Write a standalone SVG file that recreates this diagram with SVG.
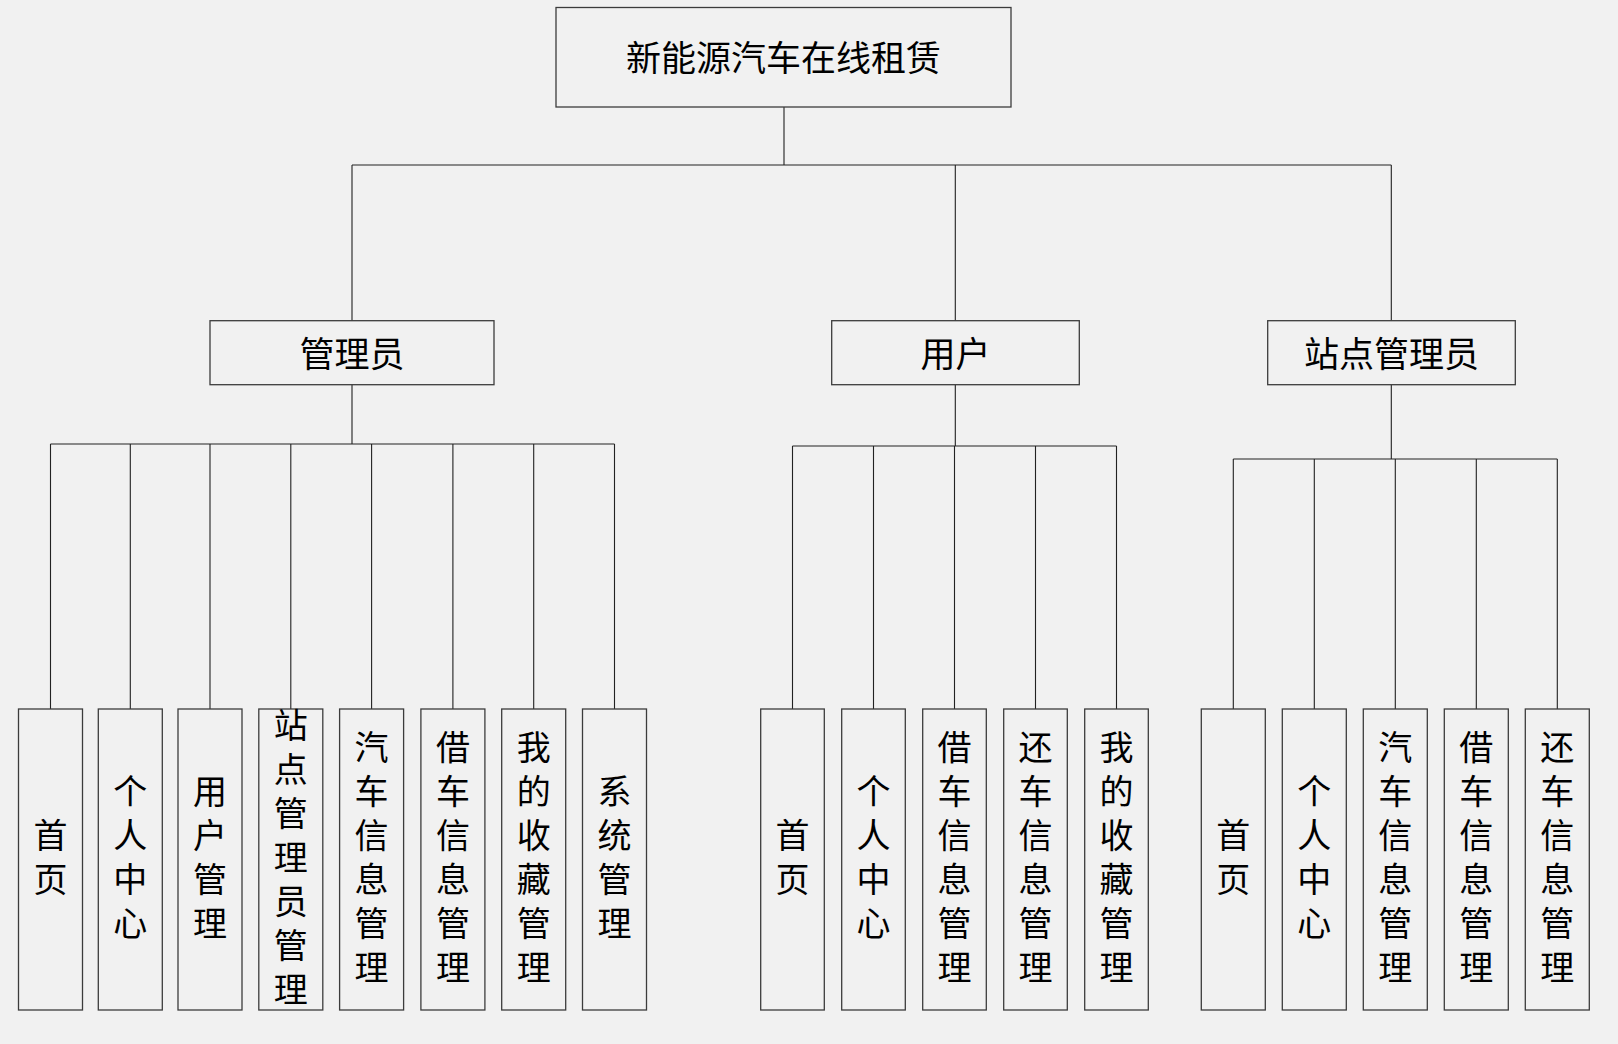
<svg xmlns="http://www.w3.org/2000/svg" width="1618" height="1044" viewBox="0 0 1618 1044">
<style>
.bg{fill:#f1f1f1}
.box{fill:#f1f1f1;stroke:#3c3c3c;stroke-width:1.3}
.ln{fill:none;stroke:#222;stroke-width:1.1}
.t{font-family:"Noto Sans CJK SC","Noto Sans",sans-serif;font-size:34px;fill:#000;text-anchor:middle;writing-mode:vertical-rl;text-orientation:upright;letter-spacing:10px}
.tt{font-family:"Noto Sans CJK SC","Noto Sans",sans-serif;font-size:35px;fill:#000;text-anchor:middle;dominant-baseline:central}
</style>
<rect class="bg" x="0" y="0" width="1618" height="1044"/>
<g id="connectors">
<path class="ln" d="M784 107V165M352 165H1391.3M352 165V320.7M955.3 165V320.7M1391.3 165V320.7"/>
<path class="ln" d="M352 384.7V444M50.5 444H614.5M50.5 444V709M130.3 444V709M210 444V709M290.8 444V709M371.6 444V709M452.9 444V709M533.7 444V709M614.5 444V709"/>
<path class="ln" d="M955.3 384.7V446M792.5 446H1116.5M792.5 446V709M873.5 446V709M954.5 446V709M1035.5 446V709M1116.5 446V709"/>
<path class="ln" d="M1391.3 384.7V459M1233.3 459H1557.3M1233.3 459V709M1314.3 459V709M1395.3 459V709M1476.3 459V709M1557.3 459V709"/>
</g>
<g id="root"><rect class="box" x="556" y="7.5" width="455" height="99.5"/><text class="tt" x="783.5" y="55.5">新能源汽车在线租赁</text></g>
<g id="admin"><rect class="box" x="210" y="320.7" width="284" height="64"/><text class="tt" x="352" y="351">管理员</text></g>
<g id="user"><rect class="box" x="831.7" y="320.7" width="247.6" height="64"/><text class="tt" x="955.5" y="351">用户</text></g>
<g id="station"><rect class="box" x="1267.7" y="320.7" width="247.6" height="64"/><text class="tt" x="1391.5" y="351">站点管理员</text></g>

<g id="a1"><rect class="box" x="18.5" y="709" width="64" height="301"/><text class="t" x="50.5" y="862.5">首页</text></g>
<g id="a2"><rect class="box" x="98.3" y="709" width="64" height="301"/><text class="t" x="130.3" y="862.5">个人中心</text></g>
<g id="a3"><rect class="box" x="178" y="709" width="64" height="301"/><text class="t" x="210" y="862.5">用户管理</text></g>
<g id="a4"><rect class="box" x="258.8" y="709" width="64" height="301"/><text class="t" x="290.8" y="862.5">站点管理员管理</text></g>
<g id="a5"><rect class="box" x="339.6" y="709" width="64" height="301"/><text class="t" x="371.6" y="862.5">汽车信息管理</text></g>
<g id="a6"><rect class="box" x="420.9" y="709" width="64" height="301"/><text class="t" x="452.9" y="862.5">借车信息管理</text></g>
<g id="a7"><rect class="box" x="501.7" y="709" width="64" height="301"/><text class="t" x="533.7" y="862.5">我的收藏管理</text></g>
<g id="a8"><rect class="box" x="582.5" y="709" width="64" height="301"/><text class="t" x="614.5" y="862.5">系统管理</text></g>

<g id="u1"><rect class="box" x="760.7" y="709" width="63.6" height="301"/><text class="t" x="792.5" y="862.5">首页</text></g>
<g id="u2"><rect class="box" x="841.7" y="709" width="63.6" height="301"/><text class="t" x="873.5" y="862.5">个人中心</text></g>
<g id="u3"><rect class="box" x="922.7" y="709" width="63.6" height="301"/><text class="t" x="954.5" y="862.5">借车信息管理</text></g>
<g id="u4"><rect class="box" x="1003.7" y="709" width="63.6" height="301"/><text class="t" x="1035.5" y="862.5">还车信息管理</text></g>
<g id="u5"><rect class="box" x="1084.7" y="709" width="63.6" height="301"/><text class="t" x="1116.5" y="862.5">我的收藏管理</text></g>

<g id="s1"><rect class="box" x="1201.3" y="709" width="64" height="301"/><text class="t" x="1233.3" y="862.5">首页</text></g>
<g id="s2"><rect class="box" x="1282.3" y="709" width="64" height="301"/><text class="t" x="1314.3" y="862.5">个人中心</text></g>
<g id="s3"><rect class="box" x="1363.3" y="709" width="64" height="301"/><text class="t" x="1395.3" y="862.5">汽车信息管理</text></g>
<g id="s4"><rect class="box" x="1444.3" y="709" width="64" height="301"/><text class="t" x="1476.3" y="862.5">借车信息管理</text></g>
<g id="s5"><rect class="box" x="1525.3" y="709" width="64" height="301"/><text class="t" x="1557.3" y="862.5">还车信息管理</text></g>
</svg>
